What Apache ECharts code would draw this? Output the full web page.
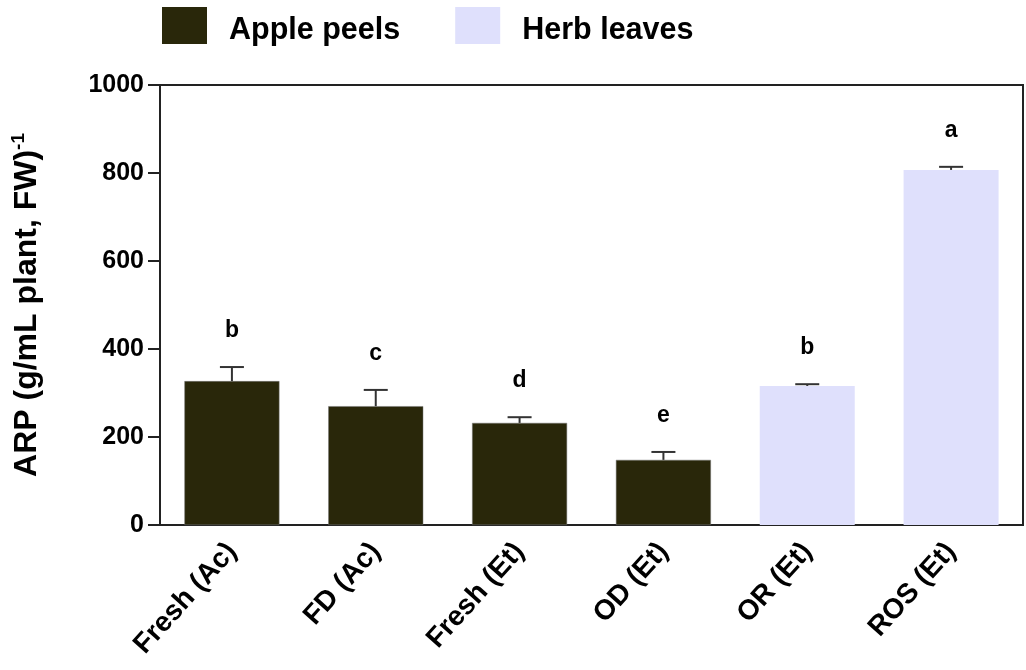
<!DOCTYPE html>
<html>
<head>
<meta charset="utf-8">
<script src="https://cdn.jsdelivr.net/npm/echarts@6/dist/echarts.min.js"></script>
<style>
  html, body { margin: 0; padding: 0; background: #fff; }
  #main { width: 1026px; height: 670px; }
</style>
</head>
<body>
<div id="main"></div>
<script>
// data
var categories = ['Fresh (Ac)', 'FD (Ac)', 'Fresh (Et)', 'OD (Et)', 'OR (Et)', 'ROS (Et)'];
var appleValues = [327, 270, 232, 148, null, null];
var herbValues = [null, null, null, null, 316, 807];
var errValues = [32, 37, 13, 18, 4, 7];
var letters = ['b', 'c', 'd', 'e', 'b', 'a'];

var fontMain = 'Liberation Sans, Arial, sans-serif';
var darkColor = '#29270a';
var lightColor = '#dfe0fc';

var myChart = echarts.init(document.getElementById('main'));

var errData = [];
for (var i = 0; i < categories.length; i++) {
    var v = appleValues[i] != null ? appleValues[i] : herbValues[i];
    errData.push([i, v, errValues[i], letters[i]]);
}

function renderErr(params, api) {
    var idx = api.value(0);
    var base = api.coord([idx, api.value(1)]);
    var top = api.coord([idx, api.value(1) + api.value(2)]);
    var capHalf = 12;
    var st = { stroke: '#333', lineWidth: 2 };
    return {
        type: 'group',
        children: [
            { type: 'line', shape: { x1: base[0], y1: base[1], x2: top[0], y2: top[1] }, style: st },
            { type: 'line', shape: { x1: top[0] - capHalf, y1: top[1], x2: top[0] + capHalf, y2: top[1] }, style: st },
            {
                type: 'text',
                style: {
                    text: letters[idx],
                    x: top[0],
                    y: top[1] - 25,
                    align: 'center',
                    verticalAlign: 'bottom',
                    font: 'bold 23px ' + fontMain,
                    fill: '#000'
                }
            }
        ]
    };
}

var option = {
    animation: false,
    legend: {
        left: 162,
        top: 7,
        padding: 0,
        itemWidth: 45,
        itemHeight: 37,
        itemGap: 55,
        icon: 'rect',
        itemStyle: { borderWidth: 0 },
        formatter: '{t|{name}}',
        textStyle: {
            padding: [0, 0, 0, 17],
            rich: {
                t: {
                    fontFamily: fontMain,
                    fontWeight: 'bold',
                    fontSize: 30.5,
                    color: '#000',
                    padding: [10, 0, 0, 0]
                }
            }
        },
        data: ['Apple peels', 'Herb leaves']
    },
    grid: {
        left: 160,
        right: 3,
        top: 85,
        bottom: 145,
        show: true,
        borderColor: '#222',
        borderWidth: 2,
        backgroundColor: 'transparent'
    },
    xAxis: {
        type: 'category',
        data: categories,
        axisLine: { lineStyle: { color: '#222', width: 2 } },
        axisTick: { alignWithLabel: true, length: 12, lineStyle: { color: '#222', width: 2 } },
        axisLabel: {
            rotate: 48,
            margin: 22,
            fontFamily: fontMain,
            fontWeight: 'bold',
            fontSize: 28,
            color: '#000'
        }
    },
    yAxis: {
        type: 'value',
        min: 0,
        max: 1000,
        interval: 200,
        name: '{a|ARP (g/mL plant, FW)}{s|-1}',
        nameLocation: 'middle',
        nameGap: 114,
        nameTextStyle: {
            rich: {
                a: { fontFamily: fontMain, fontWeight: 'bold', fontSize: 32, color: '#000' },
                s: { fontFamily: fontMain, fontWeight: 'bold', fontSize: 19, color: '#000', padding: [0, 0, 18, 0] }
            }
        },
        splitLine: { show: false },
        axisLine: { show: true, lineStyle: { color: '#222', width: 2 } },
        axisTick: { show: true, length: 12, lineStyle: { color: '#222', width: 2 } },
        axisLabel: {
            margin: 16,
            formatter: function (v) { return String(v); },
            fontFamily: fontMain,
            fontWeight: 'bold',
            fontSize: 25,
            color: '#000'
        }
    },
    series: [
        {
            name: 'Apple peels',
            type: 'bar',
            stack: 'all',
            barWidth: 95,
            data: appleValues,
            itemStyle: { color: darkColor, borderColor: '#777', borderWidth: 0.5 }
        },
        {
            name: 'Herb leaves',
            type: 'bar',
            stack: 'all',
            barWidth: 95,
            data: herbValues,
            itemStyle: { color: lightColor, borderWidth: 0 }
        },
        {
            name: 'err',
            type: 'custom',
            renderItem: renderErr,
            data: errData,
            z: 10
        }
    ]
};
myChart.setOption(option);
</script>
</body>
</html>
